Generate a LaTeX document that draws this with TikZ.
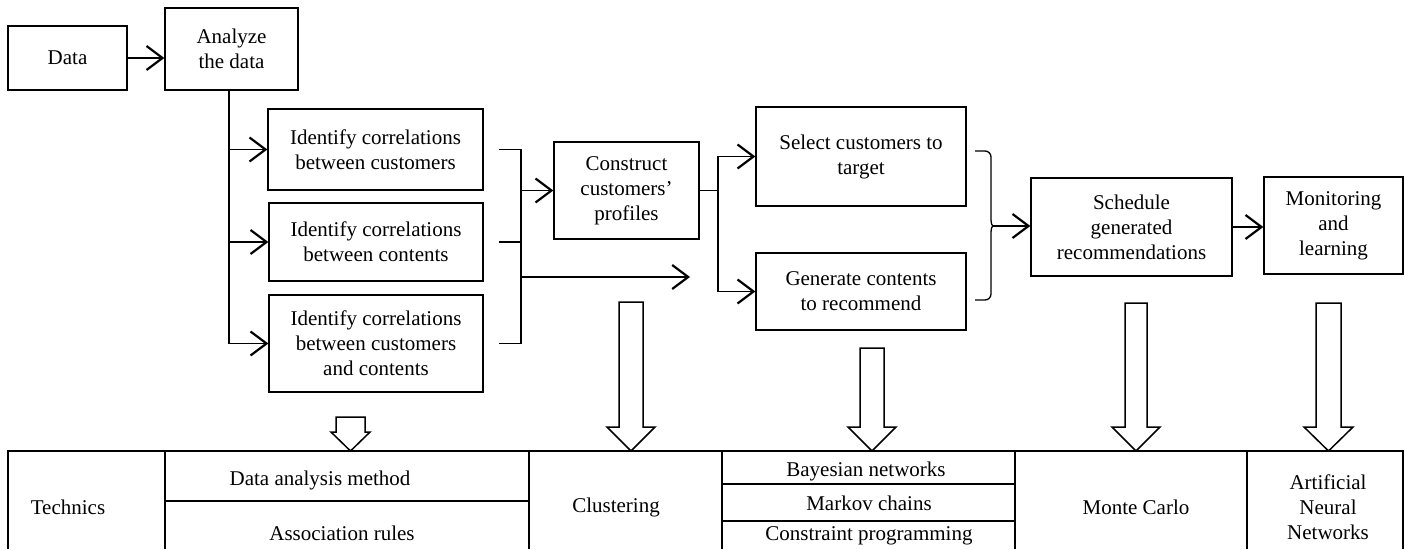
\documentclass[tikz,border=0pt]{standalone}
\usepackage{fontspec}
\setmainfont{Liberation Serif}
\usetikzlibrary{arrows.meta}

\tikzset{
  box/.style={draw, line width=1.3pt, align=center, inner sep=0pt},
  arr/.style={line width=1.9pt, -{Straight Barb[length=16pt,width=24pt,line width=2.2pt]}},
  link/.style={line width=1.3pt},
  fat/.style={draw, line width=1.5pt, fill=white},
  grid/.style={line width=1.2pt},
}

\begin{document}
\begin{tikzpicture}[x=1pt,y=-1pt,font=\fontsize{21}{25}\selectfont]
\useasboundingbox (0,0) rectangle (1405,549);

\node [box, minimum width=119pt, minimum height=64pt] (data) at (67.5,58) {Data};
\node [box, minimum width=133pt, minimum height=82pt] (analyze) at (231.5,49) {Analyze\\the data};
\node [box, minimum width=215pt, minimum height=81pt] (idcust) at (375.5,149.5)
       {Identify correlations\\between customers};
\node [box, minimum width=214pt, minimum height=78pt] (idcont) at (376,242)
       {Identify correlations\\between contents};
\node [box, minimum width=214pt, minimum height=97pt] (idboth) at (376,343.5)
       {Identify correlations\\between customers\\and contents};
\node [box, minimum width=145pt, minimum height=97pt] (construct) at (626.5,190.5)
       {Construct\\customers'\\profiles};
\node [box, minimum width=210pt, minimum height=99pt] (select) at (861,156.5)
       {Select customers to\\target};
\node [box, minimum width=210pt, minimum height=77pt] (generate) at (861,291.5)
       {Generate contents\\to recommend};
\node [box, minimum width=201pt, minimum height=98pt] (schedule) at (1131.5,227)
       {Schedule\\generated\\recommendations};
\node [box, minimum width=139pt, minimum height=97pt] (monitor) at (1333.5,225.5)
       {Monitoring\\and\\learning};

% data -> analysis
\draw [arr] (data.east) -- (data.east -| analyze.west);
\coordinate (trunk) at (229,339);
\draw [link] (analyze.south -| trunk) -- (trunk |- idboth.west);
\draw [arr] (trunk |- idcust.west) -- (idcust.west);
\draw [arr] (trunk |- idcont.west) -- (idcont.west);
\draw [arr] (trunk |- idboth.west) -- (idboth.west);

% join of the three correlations
\coordinate (join) at (521,240);
\draw [link] ([xshift=15pt]idcust.east) -- (idcust.east -| join)
             -- (idboth.east -| join) -- ([xshift=15pt]idboth.east);
\draw [link] ([xshift=15pt]idcont.east) -- (idcont.east -| join);
\draw [arr] (construct.west -| join) -- (construct.west);
\coordinate (open) at (690,277);
\draw [arr] (join |- open) -- (open);

% profiles -> targets and contents
\coordinate (fork) at (718,192);
\draw [link] (construct.east) -- (construct.east -| fork);
\draw [arr] (construct.east -| fork) |- (select.west);
\draw [arr] (construct.east -| fork) |- (generate.west);

% bracket -> schedule -> monitoring
\coordinate (brtip) at (994,226);
\draw [link] (975,151) -- (985,151) to[out=0,in=90] (991,157) -- (991,220)
             to[out=-90,in=180] (brtip) to[out=180,in=90] (991,232) -- (991,294)
             to[out=-90,in=0] (985,300) -- (975,300);
\draw [arr] (brtip) -- (brtip -| schedule.west);
\draw [arr] (schedule.east) -- (schedule.east -| monitor.west);

% hollow arrows down to the table
\draw [fat] (336,417) -- (365,417) -- (365,432) -- (370,432) -- (350.5,451)
            -- (331,432) -- (336,432) -- cycle;
\draw [fat] (619,302) -- (643,302) -- (643,427) -- (655,427) -- (631,451)
            -- (607,427) -- (619,427) -- cycle;
\draw [fat] (860,348) -- (884,348) -- (884,427) -- (896,427) -- (872,451)
            -- (848,427) -- (860,427) -- cycle;
\draw [fat] (1125,303) -- (1147,303) -- (1147,427) -- (1160,427) -- (1136,451)
            -- (1112,427) -- (1125,427) -- cycle;
\draw [fat] (1316,303) -- (1341,303) -- (1341,427) -- (1353,427) -- (1328.5,451)
            -- (1304,427) -- (1316,427) -- cycle;

% table of technics
\draw [grid] (8,549) -- (8,451) -- (1403,451) -- (1403,549);
\draw [grid] (165,451) -- (165,549);
\draw [grid] (529,451) -- (529,549);
\draw [grid] (722,451) -- (722,549);
\draw [grid] (1015,451) -- (1015,549);
\draw [grid] (1247,451) -- (1247,549);
\draw [grid] (165,501) -- (529,501);
\draw [grid] (722,484) -- (1015,484);
\draw [grid] (722,521) -- (1015,521);

\node (tech) at (68,507) {Technics};
\node (dam) at (320,480) {Data analysis method};
\node (assoc) at (342,533) {Association rules};
\node (clus) at (616,507) {Clustering};
\node (bayes) at (866,471) {Bayesian networks};
\node (markov) at (869,503) {Markov chains};
\node (cprog) at (869,536) {Constraint programming};
\node (monte) at (1136,507) {Monte Carlo};
\node [align=center] (ann) at (1328,507) {Artificial\\Neural\\Networks};
\end{tikzpicture}
\end{document}
